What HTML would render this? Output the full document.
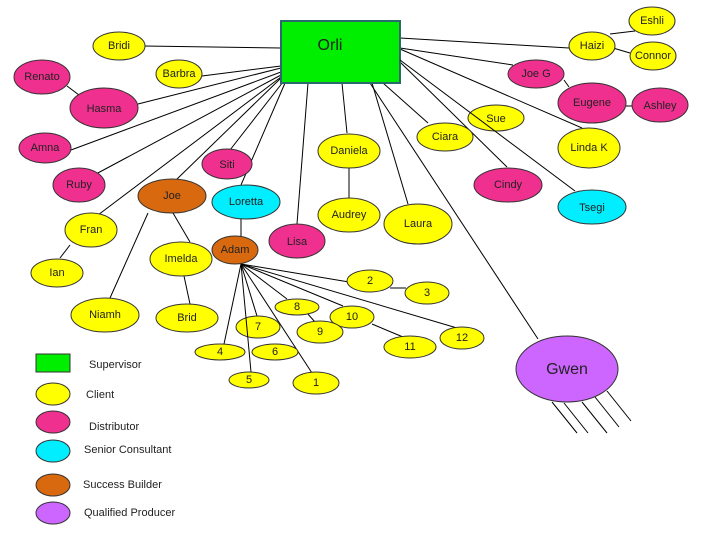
<!DOCTYPE html>
<html><head><meta charset="utf-8"><style>
html,body{margin:0;padding:0;background:#fff;}
svg{display:block;font-family:"Liberation Sans","DejaVu Sans",sans-serif;}
text{font-size:11px;text-anchor:middle;dominant-baseline:middle;fill:#222;}
ellipse{stroke:#333;stroke-width:1;}
line{stroke:#000;stroke-width:1;}
.y{fill:#ffff00}.p{fill:#f0308f}.c{fill:#00eeff}.b{fill:#d9690f}.q{fill:#cc66ff}
.l{text-anchor:start;}
</style></head><body>
<svg width="720" height="540" viewBox="0 0 720 540" xmlns="http://www.w3.org/2000/svg">
<g>
<line x1="144" y1="46" x2="281" y2="48"/>
<line x1="202" y1="76" x2="281" y2="66"/>
<line x1="138" y1="104" x2="281" y2="68"/>
<line x1="71" y1="150" x2="281" y2="72"/>
<line x1="96" y1="174" x2="281" y2="75"/>
<line x1="98" y1="215" x2="281" y2="77"/>
<line x1="176" y1="180" x2="281" y2="78"/>
<line x1="230" y1="150" x2="283" y2="82"/>
<line x1="241" y1="185" x2="285" y2="83"/>
<line x1="297" y1="224" x2="308" y2="83"/>
<line x1="347" y1="133" x2="342" y2="83"/>
<line x1="408" y1="204" x2="372" y2="83"/>
<line x1="370" y1="83" x2="538" y2="339"/>
<line x1="383" y1="83" x2="428" y2="123"/>
<line x1="400" y1="62" x2="507" y2="167"/>
<line x1="400" y1="49" x2="582" y2="128"/>
<line x1="400" y1="48" x2="513" y2="65"/>
<line x1="400" y1="38" x2="569" y2="48"/>
<line x1="564" y1="80" x2="569" y2="87"/>
<line x1="626" y1="106" x2="633" y2="106"/>
<line x1="610" y1="34" x2="635" y2="31"/>
<line x1="613" y1="48" x2="630" y2="53"/>
<line x1="67" y1="86" x2="79" y2="95"/>
<line x1="349" y1="168" x2="349" y2="198"/>
<line x1="241" y1="219" x2="241" y2="236"/>
<line x1="173" y1="213" x2="190" y2="242"/>
<line x1="148" y1="213" x2="110" y2="298"/>
<line x1="70" y1="245" x2="60" y2="258"/>
<line x1="184" y1="276" x2="190" y2="304"/>
<line x1="241" y1="264" x2="349" y2="282"/>
<line x1="241" y1="264" x2="457" y2="328"/>
<line x1="241" y1="264" x2="343" y2="306"/>
<line x1="241" y1="264" x2="287" y2="299"/>
<line x1="241" y1="264" x2="257" y2="316"/>
<line x1="241" y1="264" x2="224" y2="344"/>
<line x1="241" y1="264" x2="312" y2="373"/>
<line x1="307" y1="313" x2="315" y2="322"/>
<line x1="372" y1="324" x2="403" y2="337"/>
<line x1="390" y1="288" x2="406" y2="288"/>
<line x1="552" y1="402" x2="577" y2="433"/>
<line x1="564" y1="403" x2="588" y2="433"/>
<line x1="582" y1="402" x2="607" y2="433"/>
<line x1="595" y1="397" x2="619" y2="427"/>
<line x1="607" y1="391" x2="631" y2="421"/>
</g>
<rect x="281" y="21" width="119" height="62" fill="#00ee00" stroke="#2a6a6a" stroke-width="2"/>
<text x="330" y="46" style="font-size:16px">Orli</text>

<ellipse class="y" cx="119" cy="46" rx="26" ry="14"/><text x="119" y="46">Bridi</text>
<ellipse class="y" cx="179" cy="74" rx="23" ry="14"/><text x="179" y="74">Barbra</text>
<ellipse class="p" cx="42" cy="77" rx="28" ry="17"/><text x="42" y="77">Renato</text>
<ellipse class="p" cx="104" cy="108" rx="34" ry="20"/><text x="104" y="109">Hasma</text>
<ellipse class="p" cx="45" cy="148" rx="26" ry="15"/><text x="45" y="148">Amna</text>
<ellipse class="p" cx="79" cy="185" rx="26" ry="17"/><text x="79" y="185">Ruby</text>
<ellipse class="p" cx="227" cy="164" rx="25" ry="15"/><text x="227" y="165">Siti</text>
<ellipse class="b" cx="172" cy="196" rx="34" ry="17"/><text x="172" y="196">Joe</text>
<ellipse class="c" cx="246" cy="202" rx="34" ry="17"/><text x="246" y="202">Loretta</text>
<ellipse class="y" cx="91" cy="230" rx="26" ry="17"/><text x="91" y="230">Fran</text>
<ellipse class="y" cx="181" cy="259" rx="31" ry="17"/><text x="181" y="259">Imelda</text>
<ellipse class="b" cx="235" cy="250" rx="23" ry="14"/><text x="235" y="250">Adam</text>
<ellipse class="p" cx="297" cy="241" rx="28" ry="17"/><text x="297" y="242">Lisa</text>
<ellipse class="y" cx="57" cy="273" rx="26" ry="14"/><text x="57" y="273">Ian</text>
<ellipse class="y" cx="349" cy="151" rx="31" ry="17"/><text x="349" y="151">Daniela</text>
<ellipse class="y" cx="349" cy="215" rx="31" ry="17"/><text x="349" y="215">Audrey</text>
<ellipse class="y" cx="652" cy="21" rx="23" ry="14"/><text x="652" y="21">Eshli</text>
<ellipse class="y" cx="592" cy="46" rx="23" ry="14"/><text x="592" y="46">Haizi</text>
<ellipse class="y" cx="653" cy="56" rx="23" ry="14"/><text x="653" y="56">Connor</text>
<ellipse class="p" cx="536" cy="74" rx="28" ry="14"/><text x="536" y="74">Joe G</text>
<ellipse class="p" cx="592" cy="103" rx="34" ry="20"/><text x="592" y="103">Eugene</text>
<ellipse class="p" cx="660" cy="105" rx="28" ry="17"/><text x="660" y="106">Ashley</text>
<ellipse class="y" cx="496" cy="118" rx="28" ry="13"/><text x="496" y="119">Sue</text>
<line x1="400" y1="60" x2="575" y2="191"/>
<ellipse class="y" cx="445" cy="137" rx="28" ry="14"/><text x="445" y="137">Ciara</text>
<ellipse class="y" cx="589" cy="148" rx="31" ry="20"/><text x="589" y="148">Linda K</text>
<ellipse class="p" cx="508" cy="185" rx="34" ry="17"/><text x="508" y="185">Cindy</text>
<ellipse class="c" cx="592" cy="207" rx="34" ry="17"/><text x="592" y="208">Tsegi</text>
<ellipse class="y" cx="418" cy="224" rx="34" ry="20"/><text x="418" y="224">Laura</text>
<ellipse class="y" cx="370" cy="281" rx="23" ry="11"/><text x="370" y="281">2</text>
<ellipse class="y" cx="427" cy="293" rx="22" ry="11"/><text x="427" y="293">3</text>
<ellipse class="y" cx="297" cy="307" rx="22" ry="8"/><text x="297" y="307">8</text>
<ellipse class="y" cx="352" cy="317" rx="22" ry="11"/><text x="352" y="317">10</text>
<ellipse class="y" cx="320" cy="332" rx="23" ry="11"/><text x="320" y="332">9</text>
<ellipse class="y" cx="258" cy="327" rx="22" ry="11"/><text x="258" y="327">7</text>
<line x1="241" y1="264" x2="251" y2="372"/>
<ellipse class="y" cx="220" cy="352" rx="25" ry="8"/><text x="220" y="352">4</text>
<ellipse class="y" cx="275" cy="352" rx="23" ry="8"/><text x="275" y="352">6</text>
<ellipse class="y" cx="249" cy="380" rx="20" ry="8"/><text x="249" y="380">5</text>
<ellipse class="y" cx="316" cy="383" rx="23" ry="11"/><text x="316" y="383">1</text>
<ellipse class="y" cx="410" cy="347" rx="26" ry="11"/><text x="410" y="347">11</text>
<ellipse class="y" cx="462" cy="338" rx="22" ry="11"/><text x="462" y="338">12</text>
<ellipse class="y" cx="187" cy="318" rx="31" ry="14"/><text x="187" y="318">Brid</text>
<ellipse class="y" cx="105" cy="315" rx="34" ry="17"/><text x="105" y="315">Niamh</text>
<ellipse class="q" cx="567" cy="369" rx="51" ry="33"/><text x="567" y="370" style="font-size:16px">Gwen</text>

<rect x="36" y="354" width="34" height="18" fill="#00ee00" stroke="#333"/>
<ellipse class="y" cx="53" cy="394" rx="17" ry="11"/>
<ellipse class="p" cx="53" cy="422" rx="17" ry="11"/>
<ellipse class="c" cx="53" cy="451" rx="17" ry="11"/>
<ellipse class="b" cx="53" cy="485" rx="17" ry="11"/>
<ellipse class="q" cx="53" cy="513" rx="17" ry="11"/>
<text class="l" x="89" y="365">Supervisor</text>
<text class="l" x="86" y="395">Client</text>
<text class="l" x="89" y="427">Distributor</text>
<text class="l" x="84" y="450">Senior Consultant</text>
<text class="l" x="83" y="485">Success Builder</text>
<text class="l" x="84" y="513">Qualified Producer</text>
</svg>
</body></html>
